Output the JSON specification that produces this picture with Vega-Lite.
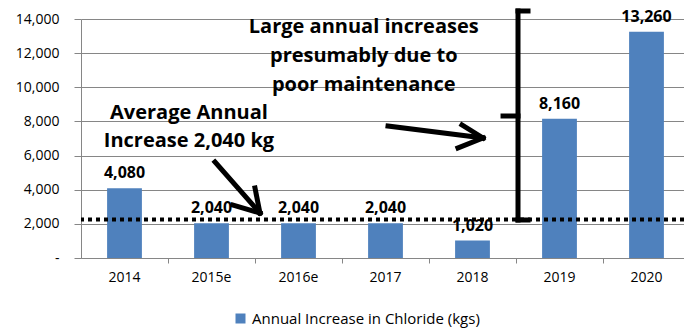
{
  "$schema": "https://vega.github.io/schema/vega-lite/v6.json",
  "width": 603,
  "height": 239,
  "autosize": {"type": "none"},
  "padding": {"left": 81, "top": 19, "right": 0, "bottom": 70},
  "background": "white",
  "config": {"view": {"stroke": null}, "font": "Open Sans"},
  "datasets": {
    "bars": [
      {"year": "2014", "kg": 4080, "series": "Annual Increase in Chloride (kgs)"},
      {"year": "2015e", "kg": 2040, "series": "Annual Increase in Chloride (kgs)"},
      {"year": "2016e", "kg": 2040, "series": "Annual Increase in Chloride (kgs)"},
      {"year": "2017", "kg": 2040, "series": "Annual Increase in Chloride (kgs)"},
      {"year": "2018", "kg": 1020, "series": "Annual Increase in Chloride (kgs)"},
      {"year": "2019", "kg": 8160, "series": "Annual Increase in Chloride (kgs)"},
      {"year": "2020", "kg": 13260, "series": "Annual Increase in Chloride (kgs)"}
    ],
    "avg": [{"kg": 2250}],
    "notes": [
      {"label": "Large annual increases", "ax": 3.25, "kg": 13532},
      {"label": "presumably due to", "ax": 3.25, "kg": 11833},
      {"label": "poor maintenance", "ax": 3.25, "kg": 10134},
      {"label": "Average Annual", "ax": 1.241, "kg": 8494},
      {"label": "Increase 2,040 kg", "ax": 1.241, "kg": 6854}
    ],
    "segs": [
      {"ax": 1.540, "kg": 5624, "ax2": 2.057, "kg2": 2636},
      {"ax": 2.057, "kg": 2636, "ax2": 1.747, "kg2": 3105},
      {"ax": 2.057, "kg": 2636, "ax2": 2.000, "kg2": 4101},
      {"ax": 3.529, "kg": 7733, "ax2": 4.621, "kg2": 7030},
      {"ax": 4.621, "kg": 7030, "ax2": 4.379, "kg2": 7791},
      {"ax": 4.621, "kg": 7030, "ax2": 4.333, "kg2": 6444},
      {"ax": 5.023, "kg": 14469, "ax2": 5.023, "kg2": 2226},
      {"ax": 5.023, "kg": 14469, "ax2": 5.138, "kg2": 14469},
      {"ax": 5.023, "kg": 2226, "ax2": 5.138, "kg2": 2226},
      {"ax": 5.023, "kg": 8318, "ax2": 4.851, "kg2": 8318}
    ]
  },
  "encoding": {
    "y": {
      "field": "kg", "type": "quantitative",
      "scale": {"domain": [0, 14000], "nice": false},
      "axis": {
        "title": null,
        "values": [0, 2000, 4000, 6000, 8000, 10000, 12000, 14000],
        "labelExpr": "datum.value == 0 ? '-\u00a0\u00a0' : format(datum.value, ',')",
        "labelOverlap": false,
        "grid": true, "gridColor": "#868686", "domainColor": "#868686", "tickColor": "#868686",
        "tickSize": 7, "labelPadding": 15, "labelFontSize": 14, "labelColor": "#000"
      }
    }
  },
  "layer": [
    {
      "data": {"name": "bars"},
      "layer": [
        {
          "mark": {"type": "bar"},
          "encoding": {
            "x": {
              "field": "year", "type": "nominal", "sort": null,
              "scale": {"range": [0, 609], "paddingInner": 0.6, "paddingOuter": 0.3},
              "axis": {"title": null, "ticks": false, "tickSize": 0, "domainColor": "#868686", "labelAngle": 0, "labelFontSize": 14, "labelColor": "#000", "labelPadding": 12, "grid": false}
            },
            "color": {
              "field": "series", "type": "nominal",
              "scale": {"range": ["#4F81BD"]},
              "legend": {"title": null, "orient": "none", "legendX": 152, "legendY": 292, "padding": 0, "symbolType": "square", "symbolSize": 100, "labelFontSize": 15, "labelColor": "#000", "labelLimit": 0, "symbolStrokeWidth": 0}
            }
          }
        },
        {
          "mark": {"type": "text", "fontWeight": "bold", "fontSize": 16, "dy": -10, "baseline": "alphabetic", "color": "#000"},
          "encoding": {
            "x": {"field": "year", "type": "nominal", "sort": null},
            "text": {"field": "kg", "type": "quantitative", "format": ","}
          }
        }
      ]
    },
    {
      "data": {"name": "avg"},
      "mark": {"type": "rule", "strokeDash": [4, 4], "strokeWidth": 4, "color": "#000"},
      "encoding": {}
    },
    {
      "data": {"name": "segs"},
      "mark": {"type": "rule", "strokeWidth": 5, "strokeCap": "square", "color": "#000"},
      "encoding": {
        "x": {
          "field": "ax", "type": "quantitative",
          "scale": {"domain": [0, 7], "range": [0, 609], "nice": false, "zero": false},
          "axis": {"title": null, "values": [1, 2, 3, 4, 5, 6], "labels": false, "grid": false, "domain": false, "tickSize": 5, "tickColor": "#868686", "orient": "bottom"}
        },
        "x2": {"field": "ax2"},
        "y2": {"field": "kg2"}
      }
    },
    {
      "data": {"name": "notes"},
      "mark": {"type": "text", "fontWeight": "bold", "fontSize": 20, "baseline": "middle", "align": "center", "color": "#000"},
      "encoding": {
        "x": {"field": "ax", "type": "quantitative", "scale": {"domain": [0, 7], "range": [0, 609], "nice": false, "zero": false}, "axis": null},
        "text": {"field": "label"}
      }
    }
  ],
  "resolve": {"scale": {"x": "independent"}}
}
